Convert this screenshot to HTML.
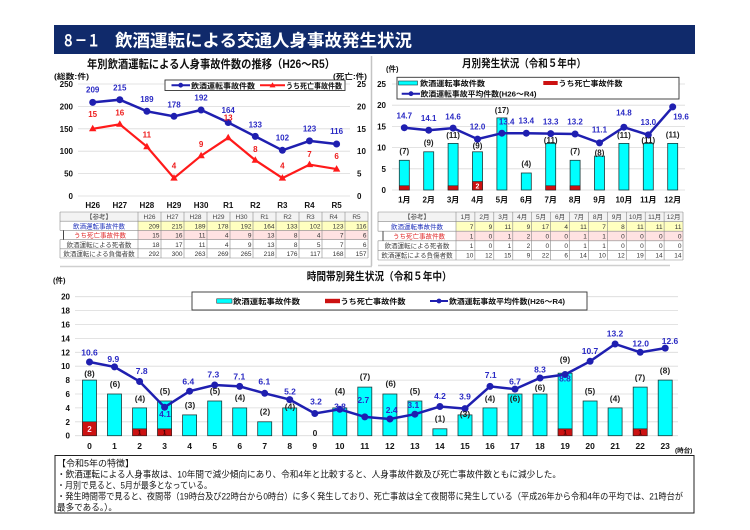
<!DOCTYPE html>
<html><head><meta charset="utf-8">
<style>
html,body{margin:0;padding:0;background:#fff;}
svg{display:block;}
text{font-family:"Liberation Sans","Noto Sans CJK JP",sans-serif;}
.b{font-weight:bold;}
.ax{font-size:8px;font-weight:bold;fill:#111;}
.bl{font-size:8px;font-weight:bold;fill:#2a2ac4;text-anchor:middle;}
.rl{font-size:8px;font-weight:bold;fill:#ee1c1c;text-anchor:middle;}
.bk{font-size:8px;font-weight:bold;fill:#222;text-anchor:middle;}
.lg{font-size:7.5px;font-weight:bold;fill:#111;}
.tt{font-size:6.5px;fill:#333;}
.te{font-size:6.5px;fill:#333;text-anchor:end;}
.tc{font-size:6.5px;fill:#444;text-anchor:middle;}
.g{stroke:#dadada;stroke-width:0.8;}
.bar{fill:#00ffff;stroke:#1d3b3b;stroke-width:0.8;}
.dbar{fill:#cc1111;stroke:#3b1d1d;stroke-width:0.6;}
.tl{stroke:#8a8a8a;stroke-width:0.6;}
.ft{font-size:9px;fill:#111;}
</style></head>
<body>
<svg width="750" height="530" viewBox="0 0 750 530" xmlns="http://www.w3.org/2000/svg">
<rect width="750" height="530" fill="#fff"/>

<!-- header -->
<rect x="54" y="25" width="641" height="29" fill="#102a6b"/>
<text x="62" y="46.5" font-size="17" class="b" fill="#fff" textLength="38" lengthAdjust="spacingAndGlyphs">８－１</text>
<text x="115" y="46.5" font-size="17" class="b" fill="#fff" textLength="297" lengthAdjust="spacingAndGlyphs">飲酒運転による交通人身事故発生状況</text>

<!-- panel separators -->
<line x1="371.5" y1="56" x2="371.5" y2="266" stroke="#c4c4c4" stroke-width="1.5"/>
<line x1="60" y1="266.5" x2="372" y2="266.5" stroke="#cfcfcf" stroke-width="1.5"/>
<line x1="378" y1="265.5" x2="670" y2="265.5" stroke="#cfcfcf" stroke-width="1.5"/>

<!-- ================= LEFT CHART ================= -->
<text x="87" y="68" font-size="11.5" class="b" fill="#111" textLength="248" lengthAdjust="spacingAndGlyphs">年別飲酒運転による人身事故件数の推移（H26～R5）</text>
<text x="54" y="79" font-size="7.5" class="b" fill="#111" textLength="35" lengthAdjust="spacingAndGlyphs">(総数:件)</text>
<text x="333" y="79" font-size="7.5" class="b" fill="#111" textLength="34" lengthAdjust="spacingAndGlyphs">(死亡:件)</text>

<g class="g">
<line x1="78" y1="84" x2="350" y2="84"/>
<line x1="78" y1="106.4" x2="350" y2="106.4"/>
<line x1="78" y1="128.8" x2="350" y2="128.8"/>
<line x1="78" y1="151.2" x2="350" y2="151.2"/>
<line x1="78" y1="173.6" x2="350" y2="173.6"/>
<line x1="78" y1="196" x2="350" y2="196"/>
</g>
<g class="ax" text-anchor="end">
<text x="73" y="87">250</text><text x="73" y="109.4">200</text><text x="73" y="131.8">150</text>
<text x="73" y="154.2">100</text><text x="73" y="176.6">50</text><text x="73" y="199">0</text>
</g>
<g class="ax">
<text x="357" y="87">25</text><text x="357" y="109.4">20</text><text x="357" y="131.8">15</text>
<text x="357" y="154.2">10</text><text x="357" y="176.6">5</text><text x="357" y="199">0</text>
</g>
<g class="ax" text-anchor="middle">
<text x="92.7" y="208">H26</text><text x="119.8" y="208">H27</text><text x="146.9" y="208">H28</text>
<text x="174" y="208">H29</text><text x="201.1" y="208">H30</text><text x="228.2" y="208">R1</text>
<text x="255.3" y="208">R2</text><text x="282.4" y="208">R3</text><text x="309.5" y="208">R4</text>
<text x="336.6" y="208">R5</text>
</g>

<!-- legend left -->
<rect x="165" y="80" width="180" height="10.5" fill="#fff" stroke="#333" stroke-width="0.9"/>
<line x1="171.5" y1="85.2" x2="190" y2="85.2" stroke="#1f1fb0" stroke-width="2"/>
<circle cx="180.7" cy="85.2" r="2.4" fill="#1f1fb0"/>
<text x="191" y="88.3" class="lg" textLength="64" lengthAdjust="spacingAndGlyphs">飲酒運転事故件数</text>
<line x1="260" y1="85.2" x2="285" y2="85.2" stroke="#ff1a1a" stroke-width="2"/>
<polygon points="272.5,82.2 269.5,87.4 275.5,87.4" fill="#ff1a1a"/>
<text x="286" y="88.3" class="lg" textLength="56" lengthAdjust="spacingAndGlyphs">うち死亡事故件数</text>

<!-- blue series -->
<polyline fill="none" stroke="#1f1fb0" stroke-width="2.5" points="92.7,102.4 119.8,99.7 146.9,111.3 174,116.3 201.1,110 228.2,122.5 255.3,136.4 282.4,150.3 309.5,140.9 336.6,144"/>
<g fill="#1f1fb0">
<circle cx="92.7" cy="102.4" r="3.5"/><circle cx="119.8" cy="99.7" r="3.5"/><circle cx="146.9" cy="111.3" r="3.5"/>
<circle cx="174" cy="116.3" r="3.5"/><circle cx="201.1" cy="110" r="3.5"/><circle cx="228.2" cy="122.5" r="3.5"/>
<circle cx="255.3" cy="136.4" r="3.5"/><circle cx="282.4" cy="150.3" r="3.5"/><circle cx="309.5" cy="140.9" r="3.5"/>
<circle cx="336.6" cy="144" r="3.5"/>
</g>
<!-- red series -->
<polyline fill="none" stroke="#ff1a1a" stroke-width="2.2" points="92.7,128.8 119.8,124.3 146.9,146.7 174,178.1 201.1,155.7 228.2,137.8 255.3,160.2 282.4,178.1 309.5,164.6 336.6,169.1"/>
<g fill="#ff1a1a">
<polygon points="92.7,124.8 89,131.3 96.4,131.3"/>
<polygon points="119.8,120.3 116.1,126.8 123.5,126.8"/>
<polygon points="146.9,142.7 143.2,149.2 150.6,149.2"/>
<polygon points="174,174.1 170.3,180.6 177.7,180.6"/>
<polygon points="201.1,151.7 197.4,158.2 204.8,158.2"/>
<polygon points="228.2,133.8 224.5,140.3 231.9,140.3"/>
<polygon points="255.3,156.2 251.6,162.7 259,162.7"/>
<polygon points="282.4,174.1 278.7,180.6 286.1,180.6"/>
<polygon points="309.5,160.6 305.8,167.1 313.2,167.1"/>
<polygon points="336.6,165.1 332.9,171.6 340.3,171.6"/>
</g>
<g class="bl">
<text x="92.7" y="92.3">209</text><text x="119.8" y="90.3">215</text><text x="146.9" y="102">189</text>
<text x="174" y="107.3">178</text><text x="201.1" y="100.7">192</text><text x="228.2" y="113">164</text>
<text x="255.3" y="127.3">133</text><text x="282.4" y="140.7">102</text><text x="309.5" y="131.3">123</text>
<text x="336.6" y="134">116</text>
</g>
<g class="rl">
<text x="92.7" y="117">15</text><text x="119.8" y="115.3">16</text><text x="146.9" y="137.3">11</text>
<text x="174" y="168.7">4</text><text x="201.1" y="147">9</text><text x="228.2" y="120.7">13</text>
<text x="255.3" y="152">8</text><text x="282.4" y="168.7">4</text><text x="309.5" y="157">7</text>
<text x="336.6" y="159">6</text>
</g>

<!-- left table -->
<rect x="60" y="212" width="308" height="9.2" fill="#f3f3f3"/>
<rect x="138" y="221.2" width="230" height="9.2" fill="#ffffc0"/>
<rect x="138" y="230.4" width="230" height="9.2" fill="#ffe2e2"/>
<g class="tl">
<line x1="60" y1="212" x2="368" y2="212"/><line x1="60" y1="221.2" x2="368" y2="221.2"/>
<line x1="60" y1="230.4" x2="368" y2="230.4"/><line x1="60" y1="239.6" x2="368" y2="239.6"/>
<line x1="60" y1="248.8" x2="368" y2="248.8"/><line x1="60" y1="258" x2="368" y2="258"/>
<line x1="60" y1="212" x2="60" y2="230.4"/><line x1="60" y1="239.6" x2="60" y2="258"/>
<line x1="138" y1="212" x2="138" y2="258"/>
<line x1="161" y1="212" x2="161" y2="258"/><line x1="184" y1="212" x2="184" y2="258"/>
<line x1="207" y1="212" x2="207" y2="258"/><line x1="230" y1="212" x2="230" y2="258"/>
<line x1="253" y1="212" x2="253" y2="258"/><line x1="276" y1="212" x2="276" y2="258"/>
<line x1="299" y1="212" x2="299" y2="258"/><line x1="322" y1="212" x2="322" y2="258"/>
<line x1="345" y1="212" x2="345" y2="258"/><line x1="368" y1="212" x2="368" y2="258"/>
</g>
<line x1="63.5" y1="230.4" x2="63.5" y2="239.6" stroke="#333" stroke-width="0.9"/>
<text x="99" y="219.2" class="tc">【参考】</text>
<text x="99" y="228.4" class="tc" style="fill:#2233bb">飲酒運転事故件数</text>
<text x="100" y="237.6" class="tc" style="fill:#e02828">うち死亡事故件数</text>
<text x="99" y="246.8" class="tc">飲酒運転による死者数</text>
<text x="99" y="256" class="tc">飲酒運転による負傷者数</text>
<g class="tc">
<text x="149.5" y="219.2">H26</text><text x="172.5" y="219.2">H27</text><text x="195.5" y="219.2">H28</text>
<text x="218.5" y="219.2">H29</text><text x="241.5" y="219.2">H30</text><text x="264.5" y="219.2">R1</text>
<text x="287.5" y="219.2">R2</text><text x="310.5" y="219.2">R3</text><text x="333.5" y="219.2">R4</text>
<text x="356.5" y="219.2">R5</text>
</g>
<g class="te">
<text x="159.5" y="228.4">209</text><text x="182.5" y="228.4">215</text><text x="205.5" y="228.4">189</text><text x="228.5" y="228.4">178</text><text x="251.5" y="228.4">192</text><text x="274.5" y="228.4">164</text><text x="297.5" y="228.4">133</text><text x="320.5" y="228.4">102</text><text x="343.5" y="228.4">123</text><text x="366.5" y="228.4">116</text>
<text x="159.5" y="237.6">15</text><text x="182.5" y="237.6">16</text><text x="205.5" y="237.6">11</text><text x="228.5" y="237.6">4</text><text x="251.5" y="237.6">9</text><text x="274.5" y="237.6">13</text><text x="297.5" y="237.6">8</text><text x="320.5" y="237.6">4</text><text x="343.5" y="237.6">7</text><text x="366.5" y="237.6">6</text>
<text x="159.5" y="246.8">18</text><text x="182.5" y="246.8">17</text><text x="205.5" y="246.8">11</text><text x="228.5" y="246.8">4</text><text x="251.5" y="246.8">9</text><text x="274.5" y="246.8">13</text><text x="297.5" y="246.8">8</text><text x="320.5" y="246.8">5</text><text x="343.5" y="246.8">7</text><text x="366.5" y="246.8">6</text>
<text x="159.5" y="256">292</text><text x="182.5" y="256">300</text><text x="205.5" y="256">263</text><text x="228.5" y="256">269</text><text x="251.5" y="256">265</text><text x="274.5" y="256">218</text><text x="297.5" y="256">176</text><text x="320.5" y="256">117</text><text x="343.5" y="256">168</text><text x="366.5" y="256">157</text>
</g>

<!-- ================= RIGHT CHART ================= -->
<text x="462" y="67" font-size="11" class="b" fill="#111" textLength="124" lengthAdjust="spacingAndGlyphs">月別発生状況（令和５年中）</text>
<text x="386" y="71.5" font-size="7.5" class="b" fill="#111">(件)</text>
<g class="g">
<line x1="392" y1="84" x2="685" y2="84"/><line x1="392" y1="105.2" x2="685" y2="105.2"/>
<line x1="392" y1="126.4" x2="685" y2="126.4"/><line x1="392" y1="147.6" x2="685" y2="147.6"/>
<line x1="392" y1="168.8" x2="685" y2="168.8"/><line x1="392" y1="190" x2="685" y2="190"/>
</g>
<g class="ax" text-anchor="end">
<text x="386" y="87">25</text><text x="386" y="108.2">20</text><text x="386" y="129.4">15</text>
<text x="386" y="150.6">10</text><text x="386" y="171.8">5</text><text x="386" y="193">0</text>
</g>
<g class="ax" text-anchor="middle">
<text x="404.3" y="202.5">1月</text><text x="428.7" y="202.5">2月</text><text x="453.1" y="202.5">3月</text>
<text x="477.5" y="202.5">4月</text><text x="501.9" y="202.5">5月</text><text x="526.3" y="202.5">6月</text>
<text x="550.7" y="202.5">7月</text><text x="575.1" y="202.5">8月</text><text x="599.5" y="202.5">9月</text>
<text x="623.9" y="202.5">10月</text><text x="648.3" y="202.5">11月</text><text x="672.7" y="202.5">12月</text>
</g>
<!-- legend right -->
<rect x="397" y="77.3" width="282" height="21.7" fill="#fff" stroke="#333" stroke-width="0.9"/>
<rect x="398.5" y="81" width="19" height="4" fill="#00ffff" stroke="#1d3b3b" stroke-width="0.6"/>
<text x="420" y="86" class="lg" textLength="65" lengthAdjust="spacingAndGlyphs">飲酒運転事故件数</text>
<rect x="543.3" y="81" width="14.4" height="4" fill="#cc1111"/>
<text x="558.5" y="86" class="lg" textLength="64" lengthAdjust="spacingAndGlyphs">うち死亡事故件数</text>
<line x1="401.7" y1="93.7" x2="420" y2="93.7" stroke="#1f1fb0" stroke-width="2"/>
<circle cx="411" cy="93.7" r="2.4" fill="#1f1fb0"/>
<text x="420.5" y="96.5" class="lg" textLength="116" lengthAdjust="spacingAndGlyphs">飲酒運転事故平均件数(H26～R4)</text>
<!-- bars -->
<g class="bar">
<rect x="399.3" y="160.3" width="10" height="29.7"/><rect x="423.7" y="151.8" width="10" height="38.2"/>
<rect x="448.1" y="143.4" width="10" height="46.6"/><rect x="472.5" y="151.8" width="10" height="38.2"/>
<rect x="496.9" y="117.9" width="10" height="72.1"/><rect x="521.3" y="173" width="10" height="17"/>
<rect x="545.7" y="143.4" width="10" height="46.6"/><rect x="570.1" y="160.3" width="10" height="29.7"/>
<rect x="594.5" y="156.1" width="10" height="33.9"/><rect x="618.9" y="143.4" width="10" height="46.6"/>
<rect x="643.3" y="143.4" width="10" height="46.6"/><rect x="667.7" y="143.4" width="10" height="46.6"/>
</g>
<g class="dbar">
<rect x="399.3" y="185.76" width="10" height="4.24"/><rect x="448.1" y="185.76" width="10" height="4.24"/>
<rect x="472.5" y="181.5" width="10" height="8.5"/><rect x="545.7" y="185.76" width="10" height="4.24"/>
<rect x="570.1" y="185.76" width="10" height="4.24"/>
</g>
<text x="477.5" y="188.6" font-size="7" class="b" fill="#fff" text-anchor="middle">2</text>
<!-- line -->
<polyline fill="none" stroke="#1f1fb0" stroke-width="2.5" points="404.3,127.7 428.7,130.2 453.1,128.1 477.5,139.1 501.9,133.2 526.3,133.2 550.7,133.6 575.1,134 599.5,142.9 623.9,127.2 648.3,134.9 672.7,106.9"/>
<g fill="#1f1fb0">
<circle cx="404.3" cy="127.7" r="3.5"/><circle cx="428.7" cy="130.2" r="3.5"/><circle cx="453.1" cy="128.1" r="3.5"/>
<circle cx="477.5" cy="139.1" r="3.5"/><circle cx="501.9" cy="133.2" r="3.5"/><circle cx="526.3" cy="133.2" r="3.5"/>
<circle cx="550.7" cy="133.6" r="3.5"/><circle cx="575.1" cy="134" r="3.5"/><circle cx="599.5" cy="142.9" r="3.5"/>
<circle cx="623.9" cy="127.2" r="3.5"/><circle cx="648.3" cy="134.9" r="3.5"/><circle cx="672.7" cy="106.9" r="3.5"/>
</g>
<g class="bk">
<text x="404.3" y="154">(7)</text><text x="428.7" y="145.7">(9)</text><text x="453.1" y="138">(11)</text>
<text x="477.5" y="148.7">(9)</text><text x="501.9" y="113">(17)</text><text x="526.3" y="166.3">(4)</text>
<text x="550.7" y="143">(11)</text><text x="575.1" y="154">(7)</text><text x="599.5" y="155.3">(8)</text>
<text x="623.9" y="138">(11)</text><text x="648.3" y="143">(11)</text><text x="672.7" y="137.3">(11)</text>
</g>
<g class="bl">
<text x="404.3" y="118.7">14.7</text><text x="428.7" y="121">14.1</text><text x="453.1" y="119.3">14.6</text>
<text x="477.5" y="129.7">12.0</text><text x="506.7" y="124.3">13.4</text><text x="526.3" y="123.7">13.4</text>
<text x="550.7" y="124.3">13.3</text><text x="575.1" y="124.3">13.2</text><text x="599.5" y="132.3">11.1</text>
<text x="623.9" y="115.7">14.8</text><text x="648.3" y="125">13.0</text><text x="681" y="119.7">19.6</text>
</g>

<!-- right table -->
<rect x="378" y="212" width="305" height="9.6" fill="#f3f3f3"/>
<rect x="456" y="221.6" width="227" height="9.6" fill="#ffffc0"/>
<rect x="456" y="231.2" width="227" height="9.6" fill="#ffe2e2"/>
<g class="tl">
<line x1="378" y1="212" x2="683" y2="212"/><line x1="378" y1="221.6" x2="683" y2="221.6"/>
<line x1="378" y1="231.2" x2="683" y2="231.2"/><line x1="378" y1="240.8" x2="683" y2="240.8"/>
<line x1="378" y1="250.4" x2="683" y2="250.4"/><line x1="378" y1="260" x2="683" y2="260"/>
<line x1="378" y1="212" x2="378" y2="231.2"/><line x1="378" y1="240.8" x2="378" y2="260"/>
<line x1="456" y1="212" x2="456" y2="260"/>
<line x1="474.9" y1="212" x2="474.9" y2="260"/><line x1="493.8" y1="212" x2="493.8" y2="260"/>
<line x1="512.8" y1="212" x2="512.8" y2="260"/><line x1="531.7" y1="212" x2="531.7" y2="260"/>
<line x1="550.6" y1="212" x2="550.6" y2="260"/><line x1="569.5" y1="212" x2="569.5" y2="260"/>
<line x1="588.4" y1="212" x2="588.4" y2="260"/><line x1="607.4" y1="212" x2="607.4" y2="260"/>
<line x1="626.3" y1="212" x2="626.3" y2="260"/><line x1="645.2" y1="212" x2="645.2" y2="260"/>
<line x1="664.1" y1="212" x2="664.1" y2="260"/><line x1="683" y1="212" x2="683" y2="260"/>
</g>
<line x1="383" y1="231.2" x2="383" y2="240.8" stroke="#333" stroke-width="0.9"/>
<text x="417" y="219.2" class="tc">【参考】</text>
<text x="417" y="228.8" class="tc" style="fill:#2233bb">飲酒運転事故件数</text>
<text x="419" y="238.4" class="tc" style="fill:#e02828">うち死亡事故件数</text>
<text x="417" y="248" class="tc">飲酒運転による死者数</text>
<text x="417" y="257.6" class="tc">飲酒運転による負傷者数</text>
<g class="tc">
<text x="465.5" y="219.2">1月</text><text x="484.4" y="219.2">2月</text><text x="503.3" y="219.2">3月</text>
<text x="522.2" y="219.2">4月</text><text x="541.1" y="219.2">5月</text><text x="560.1" y="219.2">6月</text>
<text x="579" y="219.2">7月</text><text x="597.9" y="219.2">8月</text><text x="616.8" y="219.2">9月</text>
<text x="635.7" y="219.2">10月</text><text x="654.7" y="219.2">11月</text><text x="673.6" y="219.2">12月</text>
</g>
<g class="te">
<text x="473.4" y="228.8">7</text><text x="492.3" y="228.8">9</text><text x="511.3" y="228.8">11</text><text x="530.2" y="228.8">9</text><text x="549.1" y="228.8">17</text><text x="568" y="228.8">4</text><text x="586.9" y="228.8">11</text><text x="605.9" y="228.8">7</text><text x="624.8" y="228.8">8</text><text x="643.7" y="228.8">11</text><text x="662.6" y="228.8">11</text><text x="681.5" y="228.8">11</text>
<text x="473.4" y="238.4">1</text><text x="492.3" y="238.4">0</text><text x="511.3" y="238.4">1</text><text x="530.2" y="238.4">2</text><text x="549.1" y="238.4">0</text><text x="568" y="238.4">0</text><text x="586.9" y="238.4">1</text><text x="605.9" y="238.4">1</text><text x="624.8" y="238.4">0</text><text x="643.7" y="238.4">0</text><text x="662.6" y="238.4">0</text><text x="681.5" y="238.4">0</text>
<text x="473.4" y="248">1</text><text x="492.3" y="248">0</text><text x="511.3" y="248">1</text><text x="530.2" y="248">2</text><text x="549.1" y="248">0</text><text x="568" y="248">0</text><text x="586.9" y="248">1</text><text x="605.9" y="248">1</text><text x="624.8" y="248">0</text><text x="643.7" y="248">0</text><text x="662.6" y="248">0</text><text x="681.5" y="248">0</text>
<text x="473.4" y="257.6">10</text><text x="492.3" y="257.6">12</text><text x="511.3" y="257.6">15</text><text x="530.2" y="257.6">9</text><text x="549.1" y="257.6">22</text><text x="568" y="257.6">6</text><text x="586.9" y="257.6">14</text><text x="605.9" y="257.6">10</text><text x="624.8" y="257.6">12</text><text x="643.7" y="257.6">19</text><text x="662.6" y="257.6">14</text><text x="681.5" y="257.6">14</text>
</g>

<!-- ================= BOTTOM CHART ================= -->
<text x="306.7" y="280" font-size="11" class="b" fill="#111" textLength="145" lengthAdjust="spacingAndGlyphs">時間帯別発生状況（令和５年中）</text>
<text x="53" y="283" font-size="7.5" class="b" fill="#111">(件)</text>
<g class="g">
<line x1="75" y1="296.7" x2="678" y2="296.7"/><line x1="75" y1="310.6" x2="678" y2="310.6"/>
<line x1="75" y1="324.5" x2="678" y2="324.5"/><line x1="75" y1="338.4" x2="678" y2="338.4"/>
<line x1="75" y1="352.3" x2="678" y2="352.3"/><line x1="75" y1="366.2" x2="678" y2="366.2"/>
<line x1="75" y1="380.1" x2="678" y2="380.1"/><line x1="75" y1="394" x2="678" y2="394"/>
<line x1="75" y1="407.9" x2="678" y2="407.9"/><line x1="75" y1="421.8" x2="678" y2="421.8"/>
<line x1="75" y1="435.7" x2="678" y2="435.7"/>
</g>
<g class="ax" text-anchor="end">
<text x="70" y="299.7">20</text><text x="70" y="313.6">18</text><text x="70" y="327.5">16</text>
<text x="70" y="341.4">14</text><text x="70" y="355.3">12</text><text x="70" y="369.2">10</text>
<text x="70" y="383.1">8</text><text x="70" y="397">6</text><text x="70" y="410.9">4</text>
<text x="70" y="424.8">2</text><text x="70" y="438.7">0</text>
</g>
<g class="ax" text-anchor="middle" style="font-size:8.5px">
<text x="89.5" y="449">0</text><text x="114.5" y="449">1</text><text x="139.6" y="449">2</text><text x="164.6" y="449">3</text>
<text x="189.6" y="449">4</text><text x="214.7" y="449">5</text><text x="239.7" y="449">6</text><text x="264.7" y="449">7</text>
<text x="289.7" y="449">8</text><text x="314.8" y="449">9</text><text x="339.8" y="449">10</text><text x="364.8" y="449">11</text>
<text x="389.9" y="449">12</text><text x="414.9" y="449">13</text><text x="439.9" y="449">14</text><text x="465" y="449">15</text>
<text x="490" y="449">16</text><text x="515" y="449">17</text><text x="540" y="449">18</text><text x="565.1" y="449">19</text>
<text x="590.1" y="449">20</text><text x="615.1" y="449">21</text><text x="640.2" y="449">22</text><text x="665.2" y="449">23</text>
</g>
<text x="675" y="452.5" font-size="6.5" class="b" fill="#111">(時台)</text>
<!-- legend bottom -->
<rect x="192" y="292" width="395" height="18" fill="#fff" stroke="#333" stroke-width="0.9"/>
<rect x="216.7" y="298.8" width="15.3" height="4.4" fill="#00ffff" stroke="#1d3b3b" stroke-width="0.6"/>
<text x="233" y="303.8" class="lg" textLength="67" lengthAdjust="spacingAndGlyphs">飲酒運転事故件数</text>
<rect x="325" y="298.8" width="15" height="4.4" fill="#cc1111"/>
<text x="340.5" y="303.8" class="lg" textLength="65" lengthAdjust="spacingAndGlyphs">うち死亡事故件数</text>
<line x1="430" y1="301" x2="448" y2="301" stroke="#1f1fb0" stroke-width="2"/>
<circle cx="439" cy="301" r="2.4" fill="#1f1fb0"/>
<text x="449" y="303.8" class="lg" textLength="116" lengthAdjust="spacingAndGlyphs">飲酒運転事故平均件数(H26～R4)</text>
<!-- bars -->
<g class="bar">
<rect x="82.5" y="380.1" width="14" height="55.6"/><rect x="107.5" y="394" width="14" height="41.7"/>
<rect x="132.6" y="407.9" width="14" height="27.8"/><rect x="157.6" y="401" width="14" height="34.7"/>
<rect x="182.6" y="414.9" width="14" height="20.8"/><rect x="207.7" y="401" width="14" height="34.7"/>
<rect x="232.7" y="407.9" width="14" height="27.8"/><rect x="257.7" y="421.8" width="14" height="13.9"/>
<rect x="282.7" y="407.9" width="14" height="27.8"/>
<rect x="332.8" y="407.9" width="14" height="27.8"/><rect x="357.8" y="387.1" width="14" height="48.6"/>
<rect x="382.9" y="394" width="14" height="41.7"/><rect x="407.9" y="401" width="14" height="34.7"/>
<rect x="432.9" y="428.8" width="14" height="6.9"/><rect x="458" y="414.9" width="14" height="20.8"/>
<rect x="483" y="407.9" width="14" height="27.8"/><rect x="508" y="394" width="14" height="41.7"/>
<rect x="533" y="394" width="14" height="41.7"/><rect x="558.1" y="373.2" width="14" height="62.5"/>
<rect x="583.1" y="401" width="14" height="34.7"/><rect x="608.1" y="407.9" width="14" height="27.8"/>
<rect x="633.2" y="387.1" width="14" height="48.6"/><rect x="658.2" y="380.1" width="14" height="55.6"/>
</g>
<g class="dbar">
<rect x="82.5" y="421.8" width="14" height="13.9"/>
<rect x="132.6" y="428.8" width="14" height="6.9"/><rect x="157.6" y="428.8" width="14" height="6.9"/>
<rect x="558.1" y="428.8" width="14" height="6.9"/><rect x="633.2" y="428.8" width="14" height="6.9"/>
</g>
<text x="89.5" y="432" font-size="8" class="b" fill="#fde" text-anchor="middle">2</text>
<g font-size="6.5" class="b" fill="#300" text-anchor="middle">
<text x="139.6" y="434.5">1</text><text x="164.6" y="434.5">1</text><text x="565.1" y="434.5">1</text><text x="640.2" y="434.5">1</text>
</g>
<!-- line -->
<polyline fill="none" stroke="#1f1fb0" stroke-width="2.5" points="89.5,362 114.5,366.9 139.6,381.5 164.6,407.2 189.6,391.2 214.7,385 239.7,386.4 264.7,393.3 289.7,399.6 314.8,413.5 339.8,409.3 364.8,416.9 389.9,419 414.9,414.2 439.9,406.5 465,408.6 490,386.4 515,389.1 540,378 565.1,374.5 590.1,361.3 615.1,344 640.2,352.3 665.2,348.1"/>
<g fill="#1f1fb0">
<circle cx="89.5" cy="362" r="3.5"/><circle cx="114.5" cy="366.9" r="3.5"/><circle cx="139.6" cy="381.5" r="3.5"/>
<circle cx="164.6" cy="407.2" r="3.5"/><circle cx="189.6" cy="391.2" r="3.5"/><circle cx="214.7" cy="385" r="3.5"/>
<circle cx="239.7" cy="386.4" r="3.5"/><circle cx="264.7" cy="393.3" r="3.5"/><circle cx="289.7" cy="399.6" r="3.5"/>
<circle cx="314.8" cy="413.5" r="3.5"/><circle cx="339.8" cy="409.3" r="3.5"/><circle cx="364.8" cy="416.9" r="3.5"/>
<circle cx="389.9" cy="419" r="3.5"/><circle cx="414.9" cy="414.2" r="3.5"/><circle cx="439.9" cy="406.5" r="3.5"/>
<circle cx="465" cy="408.6" r="3.5"/><circle cx="490" cy="386.4" r="3.5"/><circle cx="515" cy="389.1" r="3.5"/>
<circle cx="540" cy="378" r="3.5"/><circle cx="565.1" cy="374.5" r="3.5"/><circle cx="590.1" cy="361.3" r="3.5"/>
<circle cx="615.1" cy="344" r="3.5"/><circle cx="640.2" cy="352.3" r="3.5"/><circle cx="665.2" cy="348.1" r="3.5"/>
</g>
<g class="bk" style="font-size:8.5px">
<text x="89.5" y="376.3">(8)</text><text x="115" y="387">(6)</text><text x="140" y="401.3">(4)</text>
<text x="165" y="394">(5)</text><text x="190" y="408">(3)</text><text x="215" y="394">(5)</text>
<text x="240" y="400.7">(4)</text><text x="265" y="414.7">(2)</text><text x="290" y="409.7">(4)</text>
<text x="315" y="436">0</text><text x="340" y="394">(4)</text><text x="365" y="379.7">(7)</text>
<text x="390.7" y="386.3">(6)</text><text x="415" y="394">(5)</text><text x="440" y="421.3">(1)</text>
<text x="465" y="417">(3)</text><text x="490" y="401.3">(4)</text><text x="515" y="401.3">(6)</text>
<text x="540" y="390.3">(6)</text><text x="565" y="362.3">(9)</text><text x="590" y="394">(5)</text>
<text x="615" y="401.3">(4)</text><text x="640" y="380.3">(7)</text><text x="665" y="373.7">(8)</text>
</g>
<g class="bl" style="font-size:8.5px">
<text x="89.5" y="355.7">10.6</text><text x="113.3" y="362">9.9</text><text x="141.7" y="374">7.8</text>
<text x="165" y="417">4.1</text><text x="188.3" y="384.7">6.4</text><text x="213.3" y="377.3">7.3</text>
<text x="239.3" y="379.7">7.1</text><text x="264.3" y="384.7">6.1</text><text x="290" y="394.7">5.2</text>
<text x="316" y="404.7">3.2</text><text x="340" y="409.7">3.8</text><text x="363.3" y="403">2.7</text>
<text x="391.7" y="413">2.4</text><text x="413.3" y="408">3.1</text><text x="440" y="399">4.2</text>
<text x="465" y="399.7">3.9</text><text x="490.7" y="378">7.1</text><text x="515" y="384.7">6.7</text>
<text x="540" y="372.7">8.3</text><text x="565" y="381.3">8.8</text><text x="590" y="354">10.7</text>
<text x="615" y="336.3">13.2</text><text x="640.7" y="346.3">12.0</text><text x="670" y="344">12.6</text>
</g>

<!-- text box -->
<rect x="55" y="455.5" width="639" height="57.5" fill="#fff" stroke="#222" stroke-width="1"/>
<text x="57" y="466.5" class="ft">【令和5年の特徴】</text>
<text x="57" y="477.5" class="ft" textLength="504" lengthAdjust="spacingAndGlyphs">・飲酒運転による人身事故は、10年間で減少傾向にあり、令和4年と比較すると、人身事故件数及び死亡事故件数ともに減少した。</text>
<text x="57" y="488.5" class="ft" textLength="155" lengthAdjust="spacingAndGlyphs">・月別で見ると、5月が最多となっている。</text>
<text x="57" y="499.5" class="ft" textLength="626" lengthAdjust="spacingAndGlyphs">・発生時間帯で見ると、夜間帯（19時台及び22時台から0時台）に多く発生しており、死亡事故は全て夜間帯に発生している（平成26年から令和4年の平均では、21時台が</text>
<text x="57" y="510.5" class="ft" textLength="60" lengthAdjust="spacingAndGlyphs">最多である。）。</text>
</svg>
</body></html>
